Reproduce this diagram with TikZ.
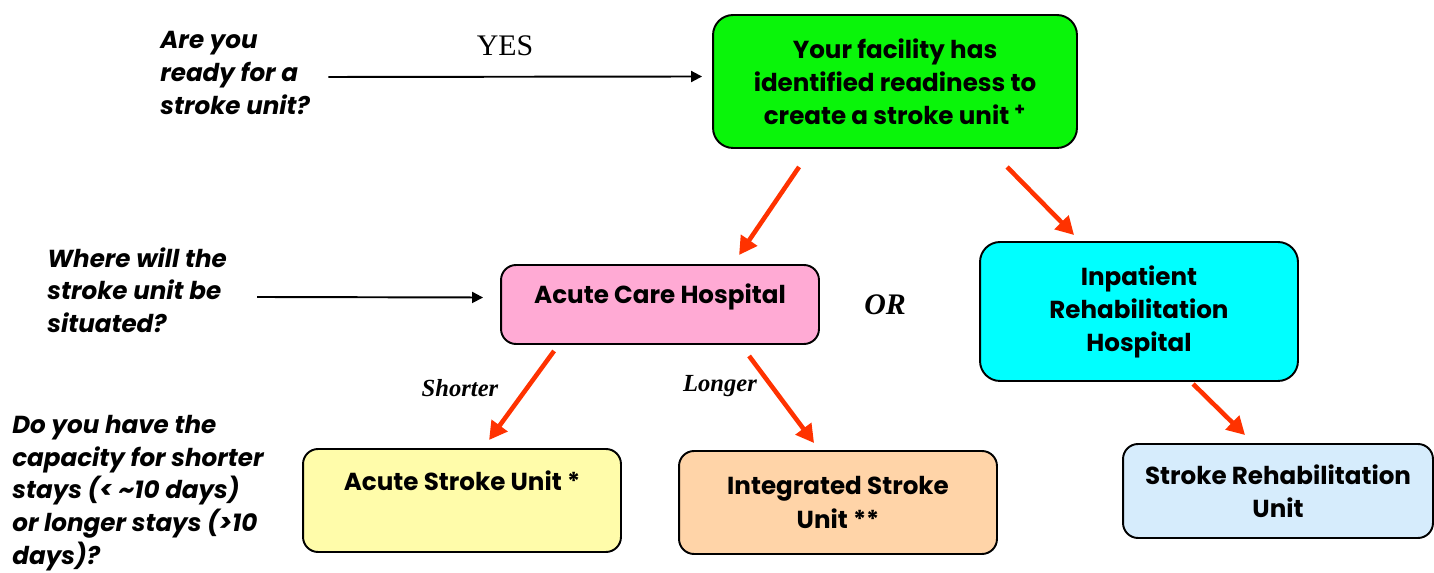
\documentclass[tikz,border=0pt]{standalone}
\usepackage{fontspec}
\setmainfont{Poppins}
\newfontfamily\timesfont{Liberation Serif}
\usetikzlibrary{arrows.meta}
\tikzset{>={Triangle[length=2.2mm,width=2.2mm]}}
\definecolor{boxgreen}{RGB}{10,245,10}
\definecolor{boxpink}{RGB}{255,170,212}
\definecolor{boxcyan}{RGB}{0,255,255}
\definecolor{boxyellow}{RGB}{255,252,170}
\definecolor{boxorange}{RGB}{255,212,168}
\definecolor{boxblue}{RGB}{214,236,252}
\definecolor{arrowred}{RGB}{255,50,0}
\tikzset{
    unitbox/.style={draw=black, line width=1.1pt, rounded corners=0.3cm, align=center,
        inner sep=0pt, minimum width=6.36cm,
        font=\fontsize{14}{18.8}\selectfont\bfseries},
    question/.style={anchor=west, align=left, inner sep=0pt,
        font=\fontsize{14}{18.6}\selectfont\bfseries\itshape},
    redarrow/.style={draw=arrowred, line width=2.6pt, -{Triangle[length=3.6mm,width=3.8mm]}},
    plainarrow/.style={draw=black, line width=1.1pt, ->},
}

\begin{document}
\begin{tikzpicture}[x=0.02cm,y=-0.02cm]
\useasboundingbox (0,0) rectangle (1434,573);
    %boxes
    \node[unitbox, fill=boxgreen, minimum width=7.28cm, minimum height=2.66cm,
        rounded corners=0.4cm] (ready) at (895,81.5)
        {Your facility has\\identified readiness to\\create a stroke unit \textsuperscript{+}};
    \node[unitbox, fill=boxpink, minimum height=1.58cm, text depth=0.42cm] (acute) at (660,304.5)
        {Acute Care Hospital};
    \node[unitbox, fill=boxcyan, minimum height=2.78cm, rounded corners=0.4cm] (rehab) at (1139,311.5)
        {Inpatient\\Rehabilitation\\Hospital};
    \node[unitbox, fill=boxyellow, minimum height=2.06cm, text depth=0.8cm] (asu) at (462,500.5)
        {Acute Stroke Unit *};
    \node[unitbox, fill=boxorange, minimum height=2.06cm] (isu) at (838,502.5)
        {Integrated Stroke\\Unit **};
    \node[unitbox, fill=boxblue, minimum width=6.2cm, minimum height=1.88cm] (sru) at (1278,491)
        {Stroke Rehabilitation\\Unit};

    %questions
    \node[question] (q1) at (160,73) {Are you\\ready for a\\stroke unit?};
    \node[question] (q2) at (47,290) {Where will the\\stroke unit be\\situated?};
    \node[question] (q3) at (12,493) {Do you have the\\capacity for shorter\\stays (< \textasciitilde10 days)\\or longer stays (>10\\days)?};

    %labels
    \node[font=\timesfont\fontsize{17}{20}\selectfont] (yes) at (505,46) {YES};
    \node[font=\timesfont\fontsize{17}{20}\selectfont\bfseries\itshape] (or) at (885,305) {OR};
    \node[font=\timesfont\fontsize{14}{16}\selectfont\bfseries\itshape] (shorter) at (460,388) {Shorter};
    \node[font=\timesfont\fontsize{14}{16}\selectfont\bfseries\itshape] (longer) at (720,386) {Longer};

    %connectors
    \draw[plainarrow] ([shift={(18,4)}]q1.east) -- ([shift={(-10,-5)}]ready.west);
    \draw[plainarrow] ([shift={(30,7)}]q2.east) -- ([shift={(-17,-7)}]acute.west);
    \draw[redarrow] ([shift={(87,18)}]ready.south west) -- ([shift={(239,-9)}]acute.north west);
    \draw[redarrow] ([shift={(295,18)}]ready.south west) -- ([shift={(95,-6)}]rehab.north west);
    \draw[redarrow] ([shift={(54,6)}]acute.south west) -- ([shift={(187,-8)}]asu.north west);
    \draw[redarrow] ([shift={(249,11)}]acute.south west) -- ([shift={(136,-7)}]isu.north west);
    \draw[redarrow] ([shift={(214,2)}]rehab.south west) -- ([shift={(123,-8)}]sru.north west);
\end{tikzpicture}
\end{document}
